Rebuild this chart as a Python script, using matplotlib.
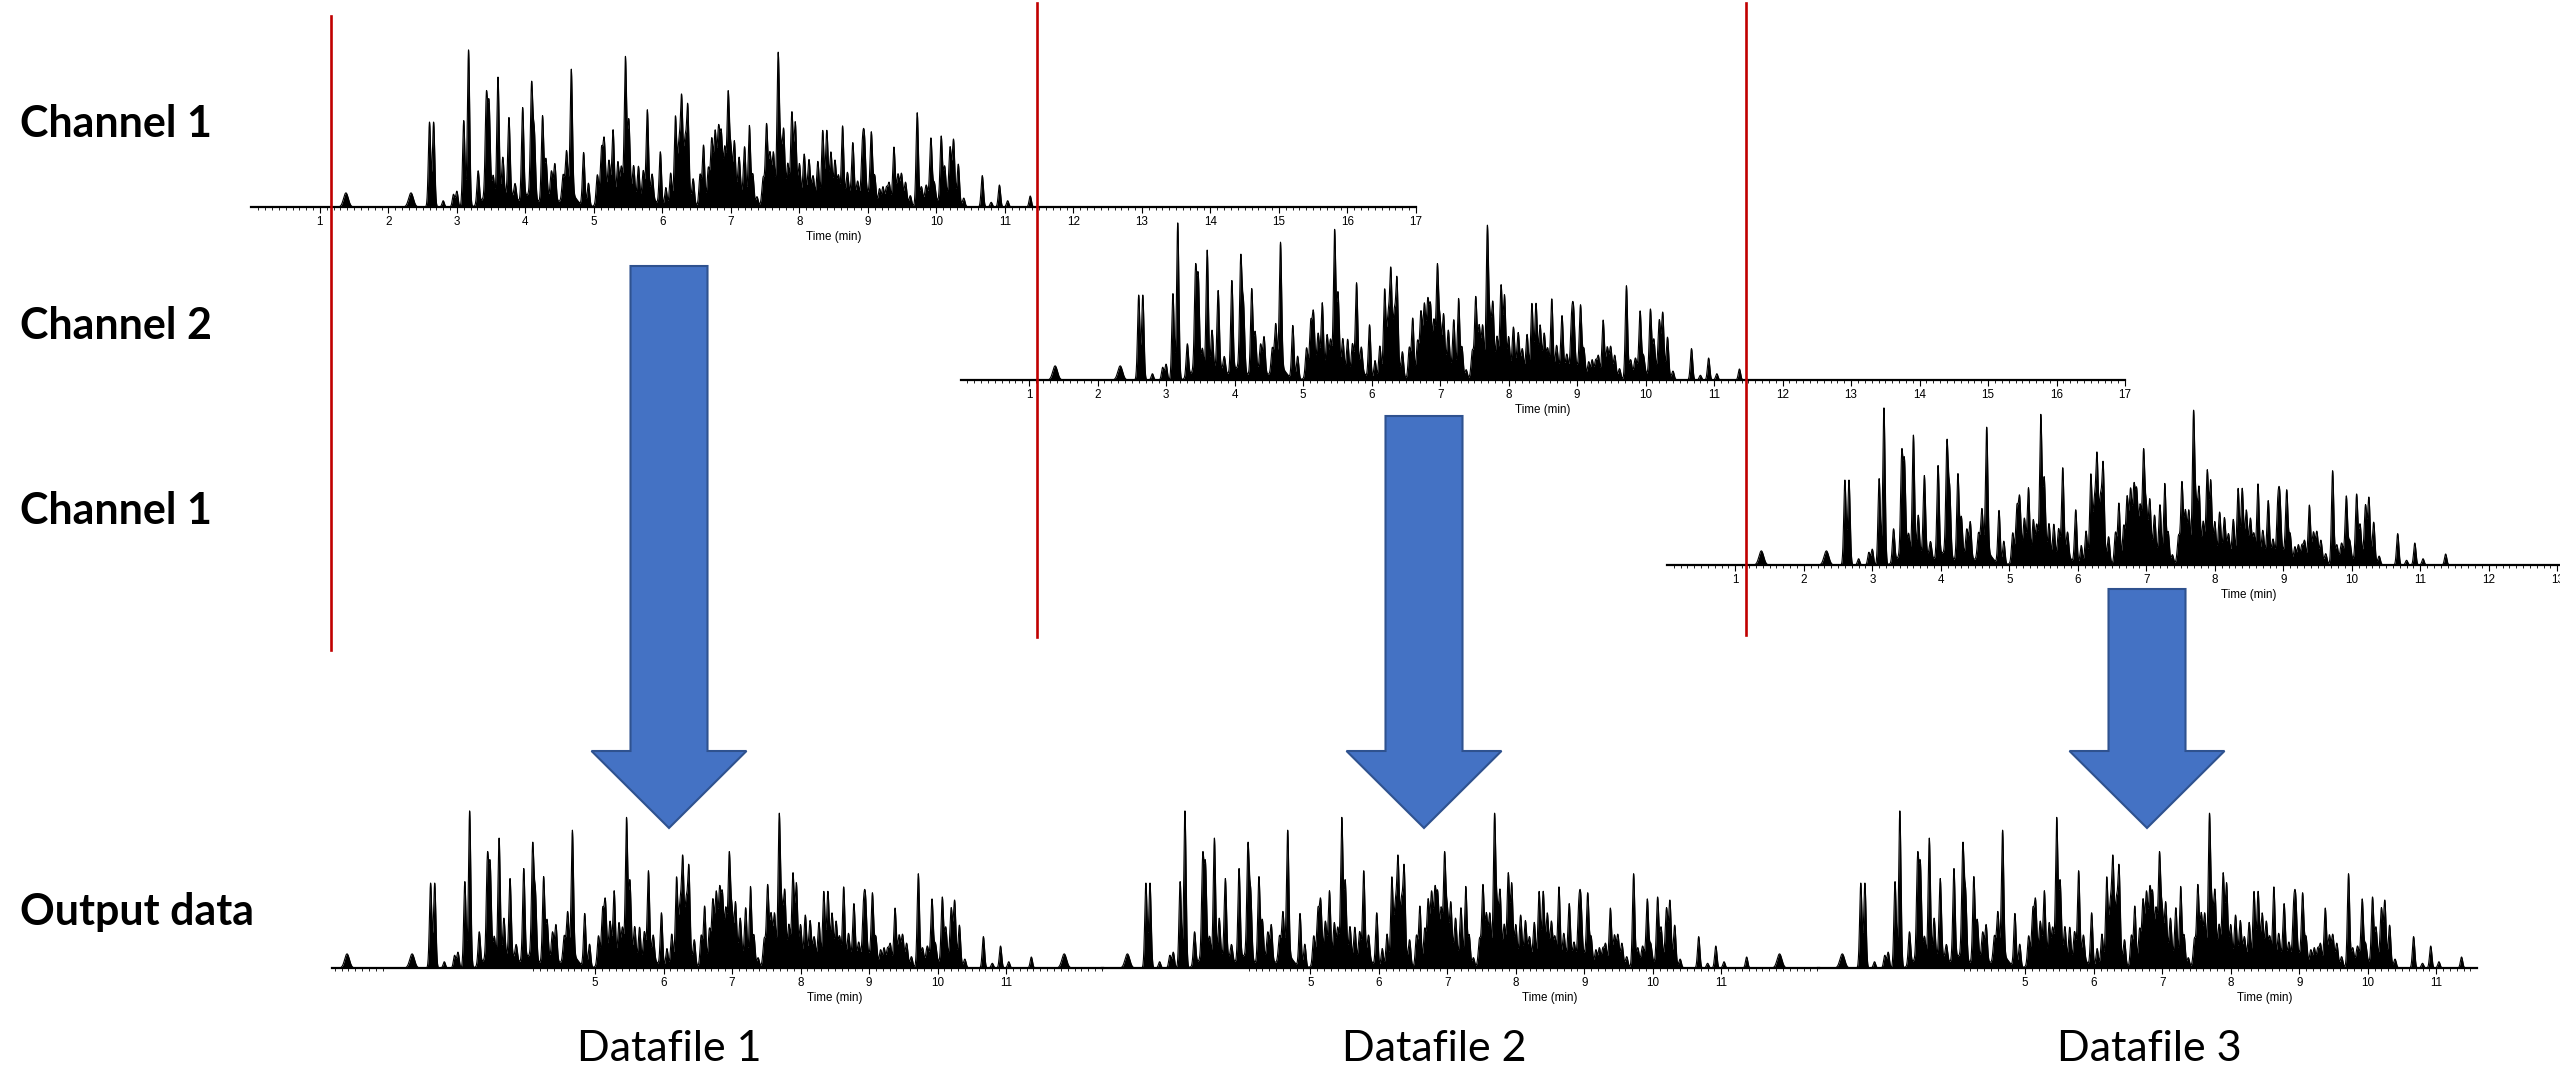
import numpy as np
import matplotlib
matplotlib.use("Agg")
import matplotlib.pyplot as plt
from matplotlib.patches import Polygon
from matplotlib.lines import Line2D
from matplotlib.ticker import FixedLocator, FixedFormatter

# ---------------------------------------------------------------- data
# Resolved peaks of the chromatogram: retention time (min) and relative height
peak_times = [
    2.60, 2.66, 2.80, 2.95, 3.00, 3.10, 3.17, 3.31, 3.43, 3.47, 3.53, 3.60,
    3.67, 3.76, 3.85, 3.96, 4.09, 4.13, 4.25, 4.30, 4.38, 4.43, 4.55, 4.60,
    4.67, 4.85, 4.92, 5.05, 5.11, 5.15, 5.22, 5.28, 5.35, 5.40, 5.46, 5.51,
    5.58, 5.65, 5.72, 5.78, 5.85, 5.97, 6.05, 6.12, 6.19, 6.24, 6.28, 6.33,
    6.37, 6.45, 6.55, 6.60, 6.67, 6.72, 6.77, 6.82, 6.86, 6.91, 6.96, 7.00,
    7.05, 7.12, 7.20, 7.27, 7.32, 7.38, 7.47, 7.52, 7.57, 7.62, 7.69, 7.73,
    7.77, 7.83, 7.89, 7.94, 8.00, 8.07, 8.14, 8.20, 8.27, 8.34, 8.40, 8.46,
    8.52, 8.57, 8.63, 8.70, 8.78, 8.85, 8.92, 8.95, 9.05, 9.10, 9.17, 9.22,
    9.27, 9.31, 9.38, 9.44, 9.49, 9.55, 9.62, 9.72, 9.78, 9.85, 9.92, 9.97,
    10.07, 10.12, 10.20, 10.25, 10.32, 10.40, 10.67, 10.80, 10.92, 11.04,
    11.37,
]
peak_heights = [
    0.54, 0.54, 0.04, 0.08, 0.10, 0.55, 1.00, 0.21, 0.63, 0.57, 0.15, 0.79,
    0.26, 0.49, 0.10, 0.58, 0.70, 0.41, 0.54, 0.25, 0.17, 0.23, 0.15, 0.28,
    0.79, 0.34, 0.15, 0.18, 0.30, 0.34, 0.20, 0.42, 0.24, 0.20, 0.87, 0.46,
    0.20, 0.22, 0.18, 0.55, 0.15, 0.34, 0.12, 0.20, 0.52, 0.30, 0.58, 0.30,
    0.55, 0.15, 0.20, 0.38, 0.20, 0.34, 0.35, 0.36, 0.35, 0.30, 0.66, 0.30,
    0.33, 0.22, 0.33, 0.50, 0.20, 0.06, 0.15, 0.46, 0.25, 0.25, 0.90, 0.30,
    0.43, 0.20, 0.50, 0.44, 0.20, 0.26, 0.21, 0.12, 0.24, 0.43, 0.40, 0.25,
    0.22, 0.15, 0.47, 0.15, 0.33, 0.10, 0.30, 0.32, 0.40, 0.15, 0.10, 0.12,
    0.11, 0.13, 0.33, 0.14, 0.15, 0.12, 0.06, 0.59, 0.10, 0.08, 0.37, 0.10,
    0.41, 0.20, 0.30, 0.36, 0.24, 0.05, 0.20, 0.03, 0.14, 0.04,
    0.07,
]
# Broad early-eluting peaks
broad_times = [1.38, 2.33]
broad_heights = [0.09, 0.09]
# Unresolved background under the crowded region
hump_times = [3.45, 3.75, 4.05, 4.35, 4.65, 5.20, 5.50, 5.80, 6.30, 6.80,
              7.10, 7.60, 7.90, 8.15, 8.45, 8.75, 9.00, 9.45, 9.90, 10.20]
hump_heights = [0.07, 0.08, 0.08, 0.06, 0.09, 0.10, 0.09, 0.07, 0.12, 0.14,
                0.10, 0.10, 0.10, 0.09, 0.10, 0.08, 0.09, 0.07, 0.07, 0.08]

channel_ticks = list(range(1, 18))
output_ticks = list(range(5, 12))
row_labels = ["Channel 1", "Channel 2", "Channel 1", "Output data"]
file_labels = ["Datafile 1", "Datafile 2", "Datafile 3"]

# ---------------------------------------------------------------- layout
W, H, DPI = 2560, 1069, 100
PPM = 68.5          # pixels per minute
HPX = 157.0         # pixels for unit relative height
BLUE, BLUE_EDGE, RED = "#4472C4", "#2F528F", "#C00000"

plt.rcParams["font.family"] = ["Liberation Sans", "DejaVu Sans"]
fig = plt.figure(figsize=(W / DPI, H / DPI), dpi=DPI)


def trace(t):
    y = np.zeros_like(t)
    for tc, h in zip(peak_times, peak_heights):
        y += h * np.exp(-0.5 * ((t - tc) / 0.017) ** 2)
    for tc, h in zip(broad_times, broad_heights):
        y += h * np.exp(-0.5 * ((t - tc) / 0.035) ** 2)
    for tc, h in zip(hump_times, hump_heights):
        y += h * np.exp(-0.5 * ((t - tc) / 0.09) ** 2)
    return y


def px_to_fig(x, y):
    return x / W, 1 - y / H


def chrom_axes(t0_px, base_px, tmin, tmax):
    left = t0_px + tmin * PPM
    width = (tmax - tmin) * PPM
    ax = fig.add_axes([left / W, (H - base_px) / H, width / W, 1.1 * HPX / H])
    ax.set_xlim(tmin, tmax)
    ax.set_ylim(0, 1.1)
    ax.patch.set_alpha(0)
    for s in ("top", "left", "right"):
        ax.spines[s].set_visible(False)
    ax.spines["bottom"].set_linewidth(1.6)
    ax.set_yticks([])
    ax.tick_params(axis="x", which="major", direction="out", length=4.2,
                   width=0.8, pad=2.5, labelsize=8.4)
    ax.tick_params(axis="x", which="minor", direction="out", length=2.4,
                   width=0.6)
    ax.annotate("Time (min)", xy=(8.5, 0), xycoords="data",
                xytext=(0, -21.5), textcoords="offset points",
                ha="center", va="center", fontsize=8.4)
    return ax


def draw_trace(ax, t, y):
    ax.fill_between(t, 0, y, color="black", lw=0)
    ax.plot(t, y, color="black", lw=0.8)


# ---- raw channel chromatograms (the last one runs off the right edge)
rows = [(251.4, 207.0, 17.0), (960.6, 380.0, 17.0), (1666.8, 565.0, 13.04)]
for t0, base, tmax in rows:
    ax = chrom_axes(t0, base, 0.0, tmax)
    t = np.arange(0.0, tmax, 0.002)
    draw_trace(ax, t, trace(t))
    ticks = [v for v in channel_ticks if v <= tmax]
    ax.xaxis.set_major_locator(FixedLocator(ticks))
    ax.xaxis.set_major_formatter(FixedFormatter([str(v) for v in ticks]))
    minors = [v for v in np.round(np.arange(0.1, tmax, 0.1), 1) if abs(v - round(v)) > 1e-6]
    ax.xaxis.set_minor_locator(FixedLocator(minors))

# ---- stitched output files
CUT, SHIFT = 11.47, 10.47
GAP = (1.98, 4.07)
outputs = [(252.5, 1.16, 12.42, True), (967.8, 1.96, 12.43, True), (1682.7, 1.98, 11.59, False)]
for t0, tmin, tmax, stitched in outputs:
    ax = chrom_axes(t0, 968.0, tmin, tmax)
    t = np.arange(tmin, tmax, 0.002)
    y = trace(t)
    if stitched:
        y = np.where(t < CUT, y, trace(t - SHIFT))
    draw_trace(ax, t, y)
    ax.xaxis.set_major_locator(FixedLocator(output_ticks))
    ax.xaxis.set_major_formatter(FixedFormatter([str(v) for v in output_ticks]))
    minors = [v for v in np.round(np.arange(np.ceil(tmin * 10) / 10, tmax, 0.1), 1)
              if not (GAP[0] < v < GAP[1]) and v not in output_ticks]
    ax.xaxis.set_minor_locator(FixedLocator(minors))

# ---- cut markers
for x, y0, y1 in [(331.0, 16, 650), (1037.0, 3, 637), (1746.0, 3, 635)]:
    fig.add_artist(Line2D([x / W, x / W], [1 - y0 / H, 1 - y1 / H],
                          transform=fig.transFigure, color=RED, lw=1.9, zorder=10))

# ---- block arrows
for cx, top in [(669.0, 266.0), (1424.0, 416.0), (2147.0, 589.0)]:
    sw, hw, hb, tip = 38.5, 77.5, 751.0, 828.0
    pts = [(cx - sw, top), (cx + sw, top), (cx + sw, hb), (cx + hw, hb),
           (cx, tip), (cx - hw, hb), (cx - sw, hb)]
    fig.add_artist(Polygon([px_to_fig(*p) for p in pts], closed=True,
                           transform=fig.transFigure, facecolor=BLUE,
                           edgecolor=BLUE_EDGE, lw=1.5, zorder=5))

# ---- text
for label, base in zip(row_labels, [137, 339, 524, 925]):
    fig.text(20 / W, 1 - base / H, label, ha="left", va="baseline",
             fontsize=31, fontweight="bold", family=["Lato", "DejaVu Sans"])
for label, cx in zip(file_labels, [669, 1434, 2149]):
    fig.text(cx / W, 1 - 1061 / H, label, ha="center", va="baseline",
             fontsize=31, family=["Lato", "DejaVu Sans"])

fig.savefig("out.png", dpi=DPI)
